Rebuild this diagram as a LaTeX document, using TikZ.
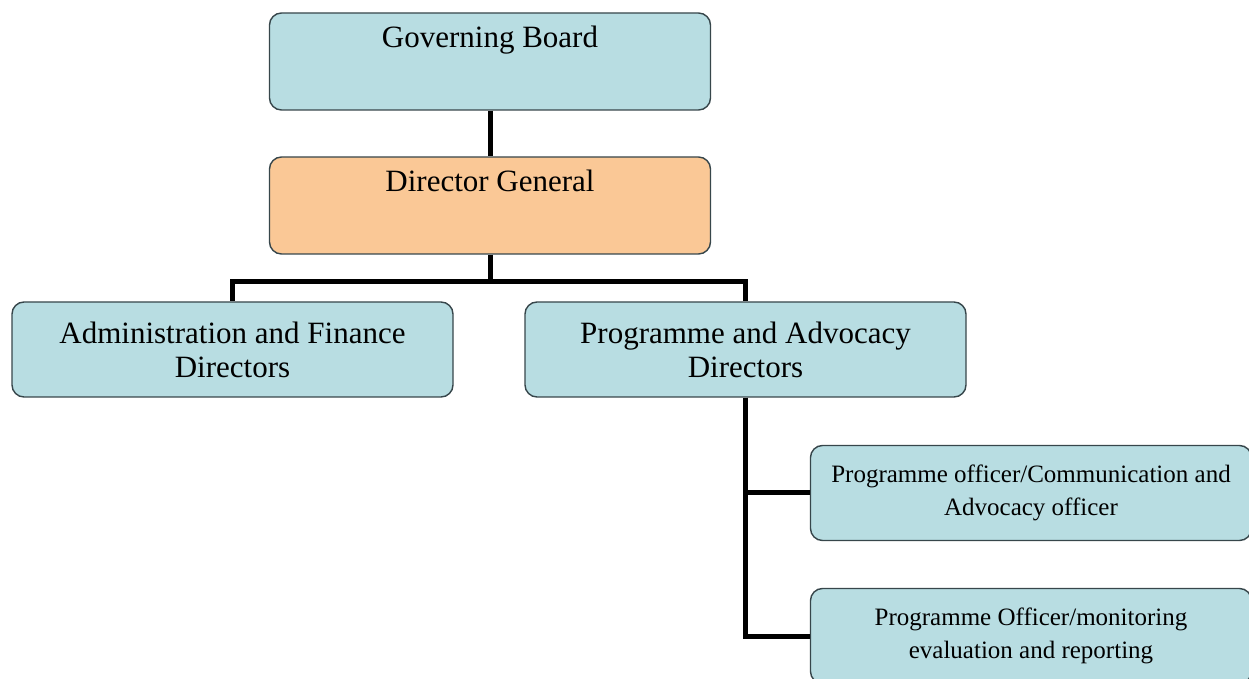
\documentclass[tikz,border=0pt]{standalone}
\usepackage{fontspec}
\setmainfont{Liberation Serif}
\usetikzlibrary{positioning}
\definecolor{boxblue}{RGB}{184,221,226}
\definecolor{boxorange}{RGB}{250,200,150}
\definecolor{boxline}{RGB}{55,70,75}

\begin{document}
\begin{tikzpicture}[x=0.5pt,y=-0.5pt,
  box/.style={draw=boxline,line width=0.7pt,fill=boxblue,rounded corners=6pt,
    minimum width=220.5pt,minimum height=47.5pt,align=center,
    font=\fontsize{15.5}{17}\selectfont},
  small/.style={font=\fontsize{12.5}{16.5}\selectfont},
  oneline/.style={inner ysep=4pt,text height=13.5pt,text depth=27pt},
  link/.style={line width=2.5pt,black}]
 \useasboundingbox (0,0) rectangle (1249,679);
 % boxes
 \node[box,oneline] (board) at (490,61.5) {Governing Board};
 \node[box,oneline,fill=boxorange] (dirgen) at (490,205.5) {Director General};
 \node[box] (admin) at (232.5,349.5) {Administration and Finance\\Directors};
 \node[box] (progdir) at (745.5,349.5) {Programme and Advocacy\\Directors};
 \node[box,small] (comoff) at (1031,493) {Programme officer/Communication and\\Advocacy officer};
 \node[box,small] (monoff) at (1031,636) {Programme Officer/monitoring\\evaluation and reporting};
 % links
 \draw[link] (board) -- (dirgen);
 \draw[link] (dirgen.south) -- ++(0,27) coordinate (bus);
 \draw[link] (bus) -| (admin.north);
 \draw[link] (bus) -| (progdir.north);
 \draw[link] (progdir.south) |- (comoff.west);
 \draw[link] (progdir.south) |- (monoff.west);
\end{tikzpicture}
\end{document}
